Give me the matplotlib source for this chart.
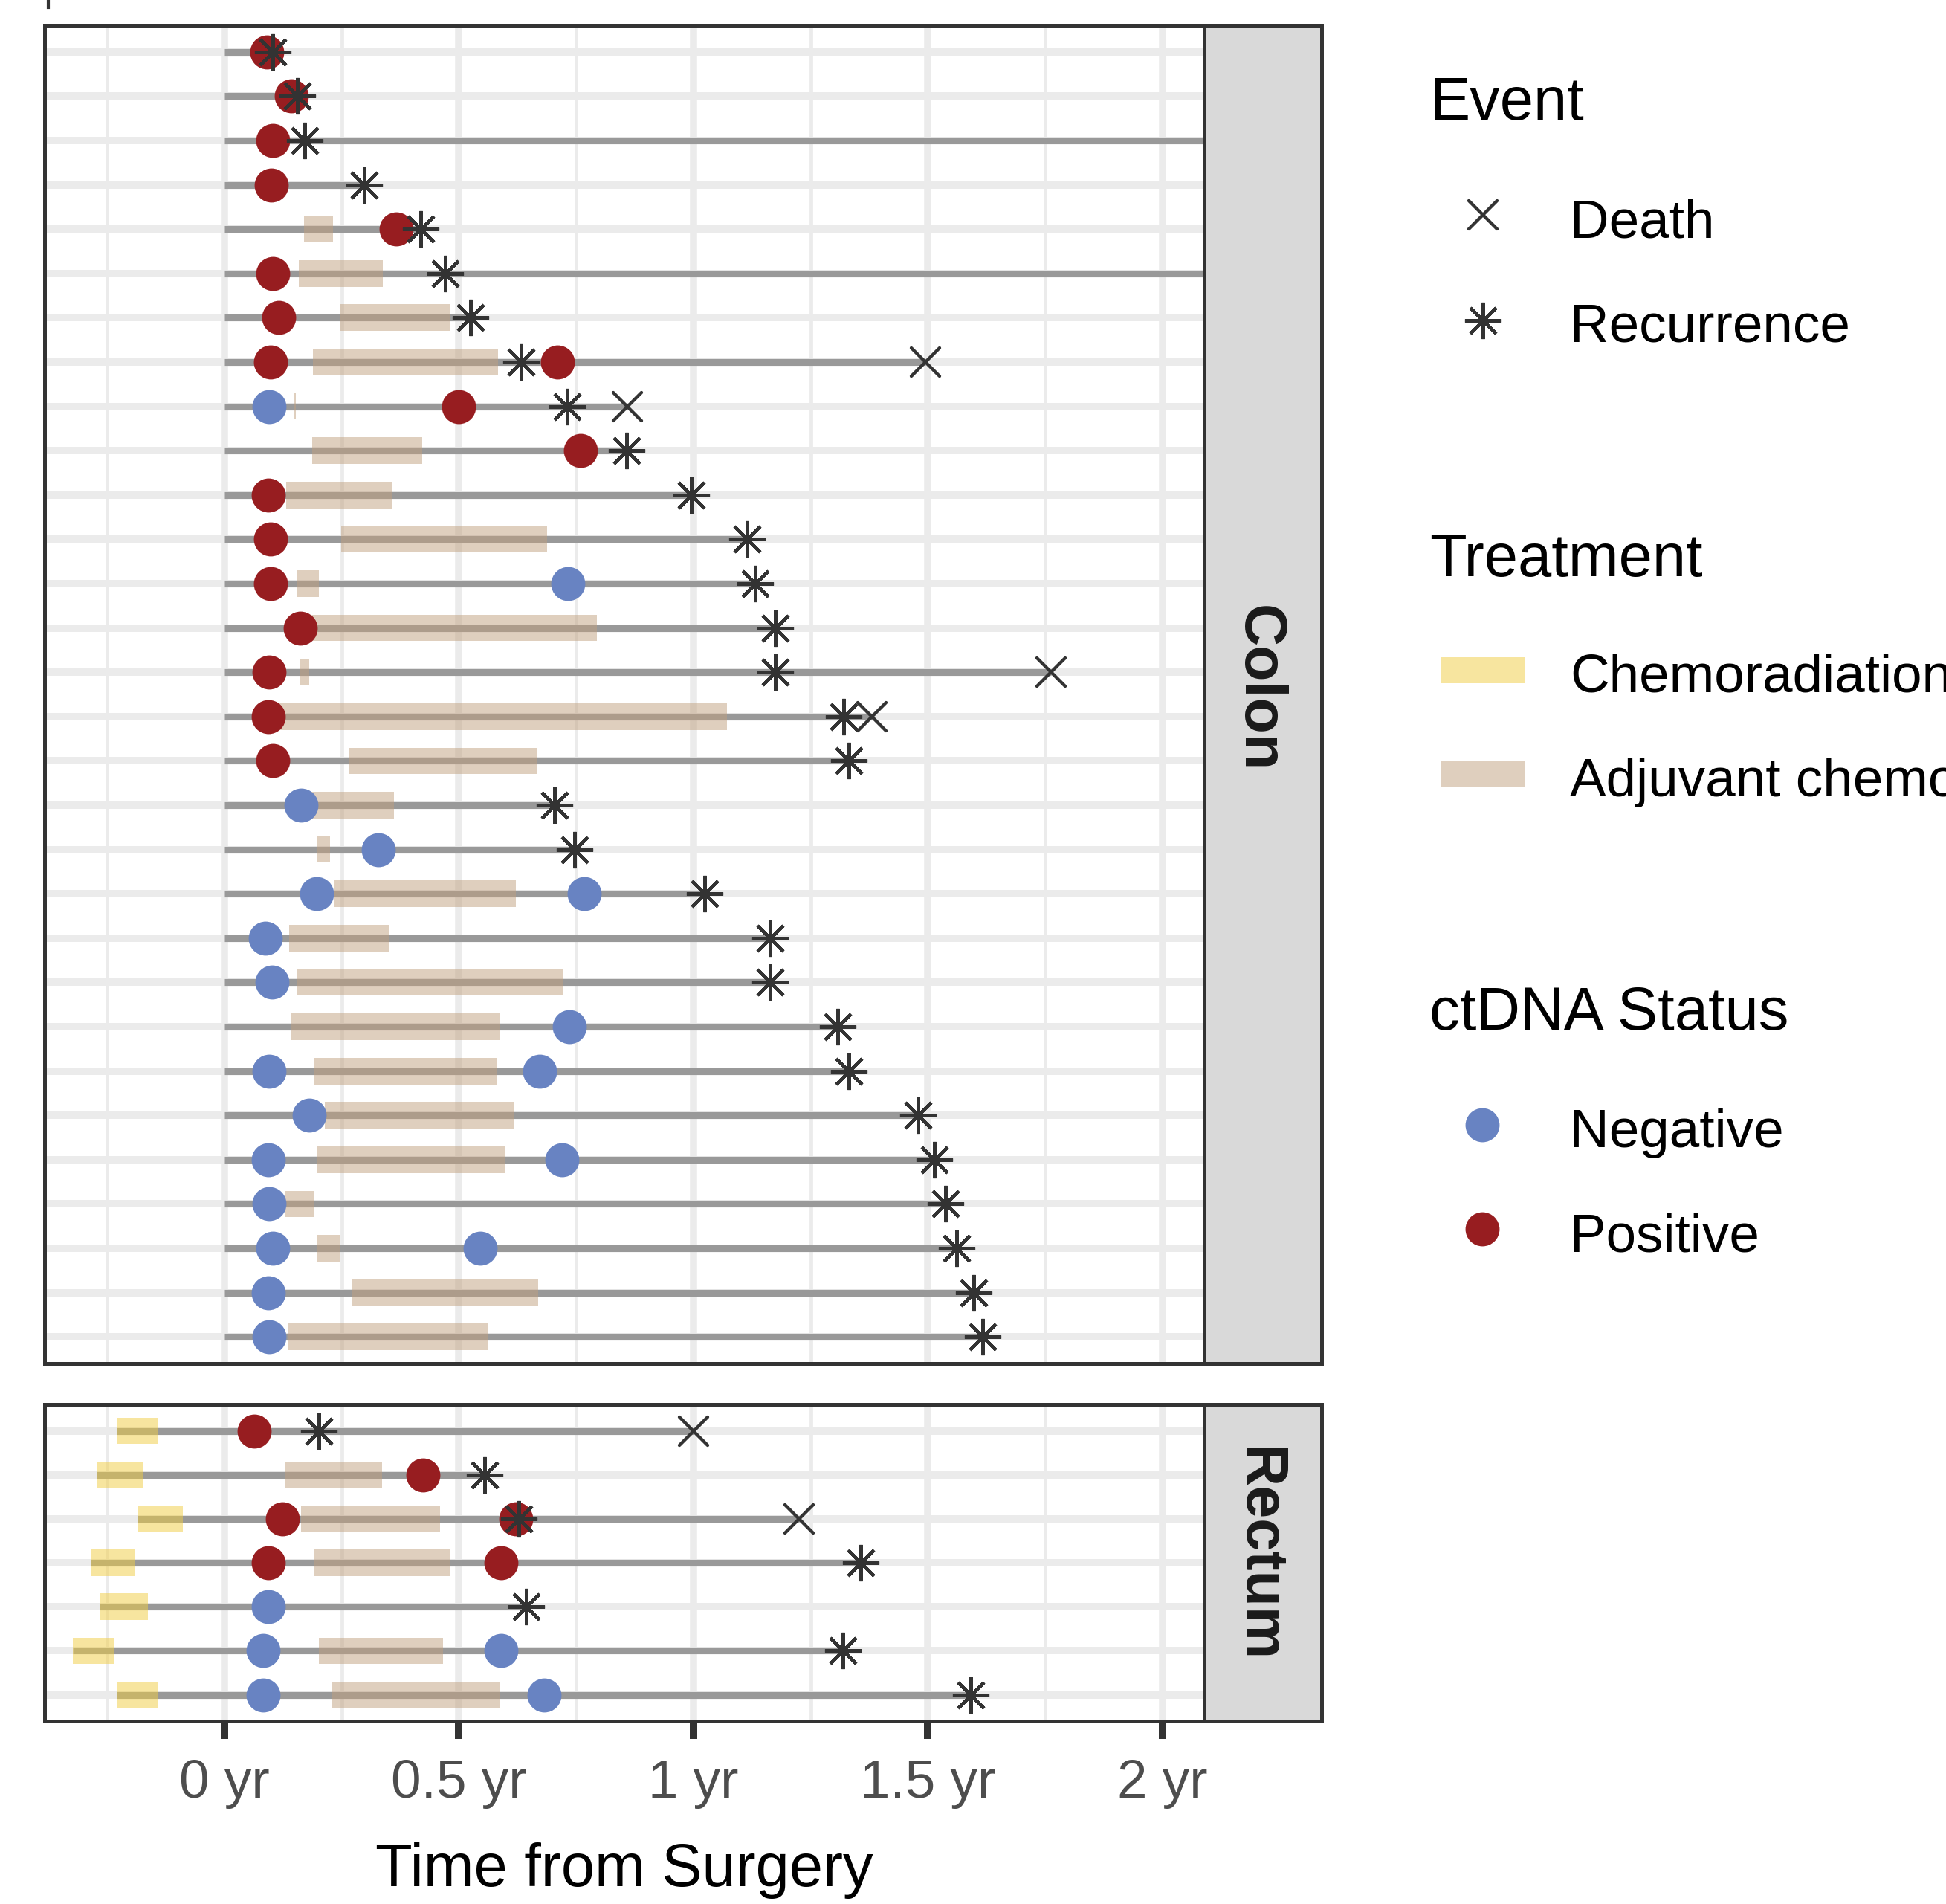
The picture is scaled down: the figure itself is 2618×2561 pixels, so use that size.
import matplotlib
matplotlib.use("Agg")
import matplotlib.pyplot as plt
from matplotlib.patches import Rectangle
from matplotlib.markers import MarkerStyle

plt.rcParams["font.family"] = ["Liberation Sans", "DejaVu Sans"]

W, H, DPI = 2618, 2562, 300

# ---- data (years from surgery), rows listed top to bottom ----
COLON_END = [0.103, 0.155, 2.3, 0.298, 0.419, 2.3, 0.525, 1.495, 0.859, 0.857,
             0.996, 1.114, 1.132, 1.175, 1.762, 1.381, 1.331, 0.704, 0.746, 1.024,
             1.164, 1.164, 1.307, 1.331, 1.479, 1.513, 1.537, 1.561, 1.598, 1.616]
COLON_ADJ = [None, None, None, None, (0.169, 0.231), (0.158, 0.338), (0.247, 0.480),
             (0.189, 0.584), (0.147, 0.152), (0.187, 0.422), (0.132, 0.357),
             (0.249, 0.688), (0.156, 0.201), (0.183, 0.794), (0.161, 0.180),
             (0.103, 1.071), (0.265, 0.667), (0.183, 0.362), (0.196, 0.225),
             (0.233, 0.622), (0.138, 0.352), (0.156, 0.722), (0.143, 0.587),
             (0.190, 0.582), (0.214, 0.616), (0.196, 0.598), (0.130, 0.190),
             (0.196, 0.246), (0.272, 0.669), (0.135, 0.561)]
COLON_NEG = [[], [], [], [], [], [], [], [], [0.095], [],
             [], [], [0.733], [], [], [], [], [0.164], [0.328], [0.196, 0.767],
             [0.087], [0.101], [0.735], [0.095, 0.672], [0.180], [0.093, 0.720],
             [0.095], [0.103, 0.545], [0.093], [0.095]]
COLON_POS = [[0.090], [0.142], [0.103], [0.100], [0.366], [0.103], [0.115],
             [0.098, 0.710], [0.499], [0.759], [0.093], [0.098], [0.098], [0.161],
             [0.095], [0.093], [0.103], [], [], [], [], [], [], [], [], [], [], [], [], []]
COLON_RECUR = [0.103, 0.155, 0.172, 0.298, 0.419, 0.471, 0.525, 0.633, 0.731, 0.857,
               0.996, 1.114, 1.132, 1.175, 1.175, 1.320, 1.331, 0.704, 0.746, 1.024,
               1.164, 1.164, 1.307, 1.331, 1.479, 1.513, 1.537, 1.561, 1.598, 1.616]
COLON_DEATH = [None, None, None, None, None, None, None, 1.495, 0.859, None,
               None, None, None, None, 1.762, 1.381, None, None, None, None,
               None, None, None, None, None, None, None, None, None, None]

RECTUM_CHEMORAD = [(-0.230, -0.142), (-0.272, -0.174), (-0.185, -0.089), (-0.285, -0.192),
                   (-0.267, -0.163), (-0.323, -0.236), (-0.230, -0.142)]
RECTUM_END = [1.0, 0.555, 1.225, 1.356, 0.644, 1.318, 1.592]
RECTUM_ADJ = [None, (0.129, 0.336), (0.163, 0.459), (0.191, 0.481), None,
              (0.201, 0.466), (0.230, 0.586)]
RECTUM_NEG = [[], [], [], [], [0.093], [0.083, 0.590], [0.083, 0.681]]
RECTUM_POS = [[0.064], [0.423], [0.123, 0.622], [0.093, 0.590], [], [], []]
RECTUM_RECUR = [0.201, 0.555, 0.628, 1.356, 0.644, 1.318, 1.592]
RECTUM_DEATH = [1.0, None, 1.225, None, None, None, None]

X_TICKS = [0, 0.5, 1, 1.5, 2]
X_TICK_LABELS = ["0 yr", "0.5 yr", "1 yr", "1.5 yr", "2 yr"]
X_MINOR = [-0.25, 0.25, 0.75, 1.25, 1.75]
XLIM = (-0.3835, 2.089)

COL_NEG = "#6883C2"
COL_POS = "#971D20"
COL_ADJ = "#C1A07F"
COL_CRT = "#F1CD41"
COL_LINE = "#999999"
COL_DARK = "#333333"
GRID = "#EBEBEB"

STAR = MarkerStyle((8, 2, 0), capstyle="round")
CROSS = MarkerStyle("x", capstyle="round")


def px_rect(l, t, r, b):
    return [l / W, 1 - b / H, (r - l) / W, (b - t) / H]


def draw_panel(ax, end, chemorad, adj, neg, pos, recur, death):
    n = len(end)
    ys = [n - i for i in range(n)]
    ax.set_xlim(*XLIM)
    ax.set_ylim(0.4, n + 0.6)
    ax.set_xticks(X_TICKS)
    ax.set_xticks(X_MINOR, minor=True)
    ax.set_yticks(ys)
    ax.set_yticklabels([])
    ax.grid(True, which="major", axis="x", color=GRID, lw=2.3)
    ax.grid(True, which="minor", axis="x", color=GRID, lw=1.15)
    ax.grid(True, which="major", axis="y", color=GRID, lw=2.4)
    ax.set_axisbelow(True)
    ax.tick_params(axis="y", length=0)
    ax.tick_params(axis="x", which="minor", length=0)
    for sp in ax.spines.values():
        sp.set_color(COL_DARK)
        sp.set_linewidth(1.2)
        sp.set_zorder(10)

    for i, y in enumerate(ys):
        s = chemorad[i][0] if chemorad is not None else 0
        ax.hlines(y, s, end[i], color=COL_LINE, lw=2.2, zorder=1)
        if chemorad is not None:
            a, b = chemorad[i]
            ax.add_patch(Rectangle((a, y - 0.3), b - a, 0.6, facecolor=COL_CRT,
                                   alpha=0.5, lw=0, zorder=2))
        if adj[i] is not None:
            a, b = adj[i]
            ax.add_patch(Rectangle((a, y - 0.3), b - a, 0.6, facecolor=COL_ADJ,
                                   alpha=0.5, lw=0, zorder=2))
        if neg[i]:
            ax.scatter(neg[i], [y] * len(neg[i]), s=11 ** 2, color=COL_NEG, lw=0, zorder=3)
        if pos[i]:
            ax.scatter(pos[i], [y] * len(pos[i]), s=11 ** 2, color=COL_POS, lw=0, zorder=3)
        if recur[i] is not None:
            ax.plot([recur[i]], [y], ls="none", marker=STAR, ms=11.8, mew=1.05,
                    color=COL_DARK, zorder=4)
        if death[i] is not None:
            ax.plot([death[i]], [y], ls="none", marker=CROSS, ms=8.9, mew=1.05,
                    color=COL_DARK, zorder=4)


def draw_strip(l, t, r, b, label, dy):
    ax = fig.add_axes(px_rect(l, t, r, b))
    ax.set_facecolor("#D9D9D9")
    ax.set_xticks([])
    ax.set_yticks([])
    for sp in ax.spines.values():
        sp.set_color(COL_DARK)
        sp.set_linewidth(1.2)
    ax.text(0.5 - 7 / (r - l), 0.5 + dy / (b - t), label, rotation=-90,
            ha="center", va="center", fontsize=19, fontweight="bold",
            color="#1A1A1A", transform=ax.transAxes)


fig = plt.figure(figsize=(W / DPI, H / DPI), dpi=DPI)

ax_c = fig.add_axes(px_rect(60, 35, 1620, 1835))
draw_panel(ax_c, COLON_END, None, COLON_ADJ, COLON_NEG, COLON_POS,
           COLON_RECUR, COLON_DEATH)
ax_c.tick_params(axis="x", which="major", length=0, labelbottom=False)

ax_r = fig.add_axes(px_rect(60, 1890, 1620, 2316))
draw_panel(ax_r, RECTUM_END, RECTUM_CHEMORAD, RECTUM_ADJ,
           RECTUM_NEG, RECTUM_POS, RECTUM_RECUR, RECTUM_DEATH)
ax_r.set_xticklabels(X_TICK_LABELS)
ax_r.tick_params(axis="x", which="major", length=5.8, width=2.4, color=COL_DARK,
                 labelsize=17.5, labelcolor="#4D4D4D", pad=6.2)
ax_r.set_xlabel("Time from Surgery", fontsize=19.5, color="black", labelpad=10.8)

draw_strip(1620, 35, 1778, 1835, "Colon", 9)
draw_strip(1620, 1890, 1778, 2316, "Rectum", 12)

# ---- legend, drawn in pixel coordinates on an overlay ----
lg = fig.add_axes([0, 0, 1, 1], zorder=-1)
lg.set_xlim(0, W)
lg.set_ylim(H, 0)
lg.axis("off")

lg.plot([65, 65], [0, 11], color=COL_DARK, lw=1)

TITLE_FS, LABEL_FS = 19.5, 17.5
TX, LX = 1923, 2112
lg.text(TX, 161, "Event", fontsize=TITLE_FS, va="baseline")
lg.plot([1995], [290], ls="none", marker=CROSS, ms=8.9, mew=1.05, color=COL_DARK)
lg.text(LX, 319, "Death", fontsize=LABEL_FS, va="baseline")
lg.plot([1995], [432], ls="none", marker=STAR, ms=11.8, mew=1.05, color=COL_DARK)
lg.text(LX, 459, "Recurrence", fontsize=LABEL_FS, va="baseline")

lg.text(TX, 775, "Treatment", fontsize=TITLE_FS, va="baseline")
lg.add_patch(Rectangle((1939, 885), 112, 35, facecolor=COL_CRT, alpha=0.5, lw=0))
lg.text(LX, 931, "Chemoradiation", fontsize=LABEL_FS, va="baseline")
lg.add_patch(Rectangle((1939, 1024), 112, 36, facecolor=COL_ADJ, alpha=0.5, lw=0))
lg.text(LX, 1071, "Adjuvant chemo", fontsize=LABEL_FS, va="baseline")

lg.text(TX, 1385, "ctDNA Status", fontsize=TITLE_FS, va="baseline")
lg.scatter([1994], [1514], s=11 ** 2, color=COL_NEG, lw=0)
lg.text(LX, 1543, "Negative", fontsize=LABEL_FS, va="baseline")
lg.scatter([1994], [1654], s=11 ** 2, color=COL_POS, lw=0)
lg.text(LX, 1684, "Positive", fontsize=LABEL_FS, va="baseline")

fig.savefig("out.png", dpi=DPI)
